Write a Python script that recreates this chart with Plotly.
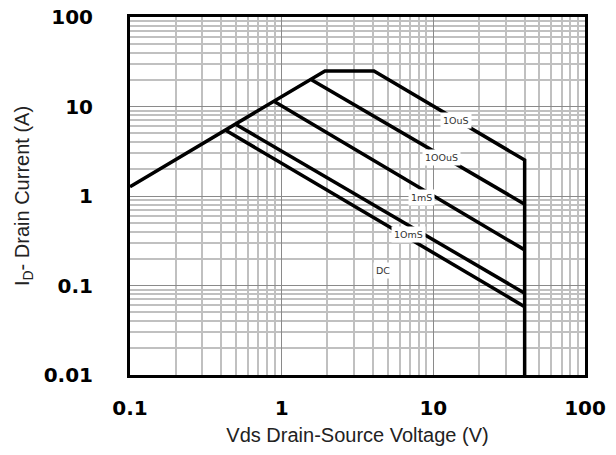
import math
import plotly.graph_objects as go

# Data (log-log SOA chart)
soa_x = [0.1, 1.93, 4.06, 40, 40]
soa_y = [1.27, 25, 25, 2.52, 0.01]
us100_x = [1.58, 40]
us100_y = [19.8, 0.81]
ms1_x = [0.90, 40]
ms1_y = [11.3, 0.25]
ms10_x = [0.50, 40]
ms10_y = [6.3, 0.082]
dc_x = [0.43, 40]
dc_y = [5.4, 0.058]

label_text = ["1OuS", "1OOuS", "1mS", "1OmS", "DC"]
label_x = [14.2, 11.3, 8.37, 6.83, 4.67]
label_y = [6.94, 2.68, 0.96, 0.367, 0.146]

x_ticks = [0.1, 1, 10, 100]
x_ticktext = ["0.1", "1", "10", "100"]
y_ticks = [0.01, 0.1, 1, 10, 100]
y_ticktext = ["0.01", "0.1", "1", "10", "100"]

x_minor = [m * d for d in [0.1, 1, 10] for m in range(2, 10)]
y_minor = [m * d for d in [0.01, 0.1, 1, 10] for m in range(2, 10)]

fig = go.Figure()
line = dict(color="black", width=3.5)
for xs, ys in [(soa_x, soa_y), (us100_x, us100_y), (ms1_x, ms1_y),
               (ms10_x, ms10_y), (dc_x, dc_y)]:
    fig.add_trace(go.Scatter(x=xs, y=ys, mode="lines", line=line,
                             showlegend=False, hoverinfo="skip"))

for t, xv, yv in zip(label_text, label_x, label_y):
    fig.add_annotation(x=math.log10(xv), y=math.log10(yv), xref="x", yref="y",
                       text=t, showarrow=False,
                       font=dict(family="DejaVu Sans", size=9.5, color="#333333"),
                       bgcolor="white", borderpad=2)

tickfont = dict(family="DejaVu Sans", size=20, color="black", weight="bold")
titlefont = dict(family="Liberation Sans, Arial", size=20, color="#222222")

fig.update_xaxes(type="log", range=[-1, 2], tickvals=x_ticks, ticktext=x_ticktext,
                 tickfont=tickfont, showgrid=True, gridcolor="#8a8a8a", gridwidth=1,
                 minor=dict(tickvals=x_minor, showgrid=True, gridcolor="#c0c0c0", gridwidth=1.5),
                 showline=True, linecolor="black", linewidth=3, mirror=True,
                 ticks="", ticklabelstandoff=13, automargin=False,
                 title=dict(text="Vds Drain-Source Voltage (V)", font=titlefont, standoff=9),
                 zeroline=False)
fig.update_yaxes(type="log", range=[-2, 2], tickvals=y_ticks, ticktext=y_ticktext,
                 tickfont=tickfont, showgrid=True, gridcolor="#8a8a8a", gridwidth=1,
                 minor=dict(tickvals=y_minor, showgrid=True, gridcolor="#c0c0c0", gridwidth=1.5),
                 showline=True, linecolor="black", linewidth=3, mirror=True,
                 ticks="", ticklabelstandoff=30, automargin=False,
                 title=dict(text="I<sub>D</sub>- Drain Current (A)", font=titlefont, standoff=9),
                 zeroline=False)

fig.update_layout(width=616, height=455, margin=dict(l=130, r=31, t=17, b=80),
                  plot_bgcolor="white", paper_bgcolor="white")

fig.write_html("out.html", config={"displayModeBar": False},
               post_script="document.body.style.margin='0px';")
